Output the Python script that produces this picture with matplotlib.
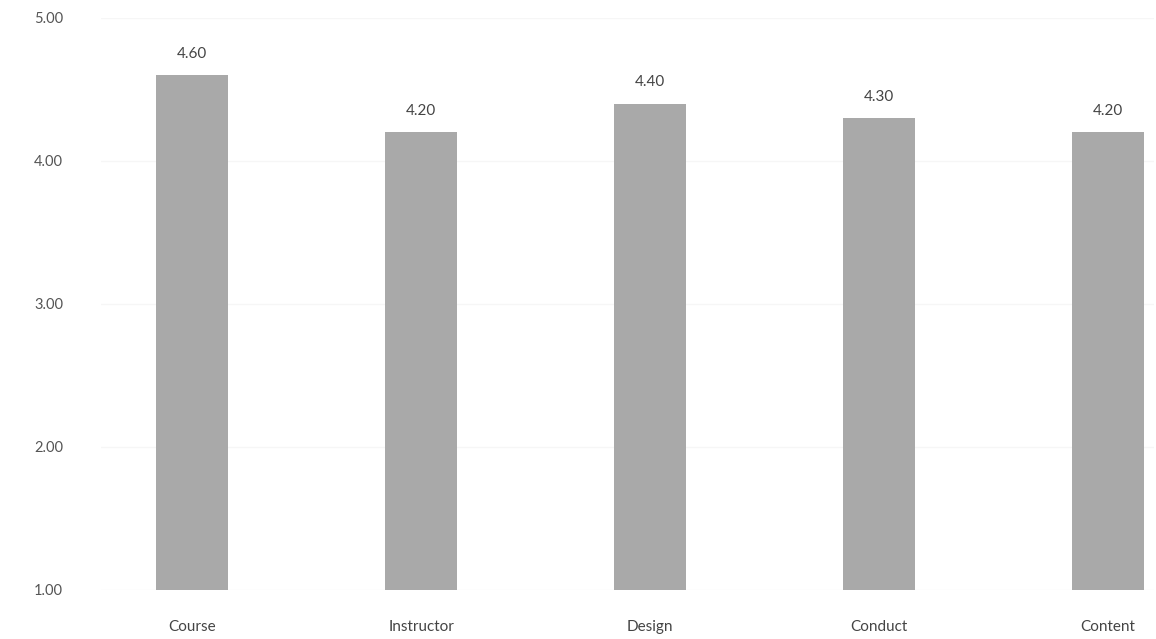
import matplotlib.pyplot as plt

categories = ["Course", "Instructor", "Design", "Conduct", "Content"]
scores = [4.60, 4.20, 4.40, 4.30, 4.20]
yticks = [1.00, 2.00, 3.00, 4.00, 5.00]

plt.rcParams['font.family'] = ['Lato', 'DejaVu Sans']

fig = plt.figure(figsize=(11.56, 6.39), dpi=100)
ax = fig.add_axes([0.087, 0.077, 0.911, 0.895])

x = range(len(categories))
bars = ax.bar(x, [s - 1 for s in scores], bottom=1, width=0.315, color='#a9a9a9', zorder=2)

for i, s in enumerate(scores):
    ax.text(i, s + 0.1, "%.2f" % s, ha='center', va='bottom', fontsize=11, color='#444444')

ax.set_xlim(-0.4, 4.2)
ax.set_ylim(1, 5)
ax.set_yticks(yticks)
ax.set_yticklabels(["%.2f" % t for t in yticks], fontsize=10.5, color='#555555')
ax.set_xticks(list(x))
ax.set_xticklabels(categories, fontsize=11, color='#444444')
ax.tick_params(axis='y', length=0, pad=27)
ax.tick_params(axis='x', length=0, pad=22)
ax.yaxis.grid(True, color='#f6f6f6', linewidth=1, zorder=0)

for sp in ax.spines.values():
    sp.set_visible(False)

fig.savefig("out.png", dpi=100)
